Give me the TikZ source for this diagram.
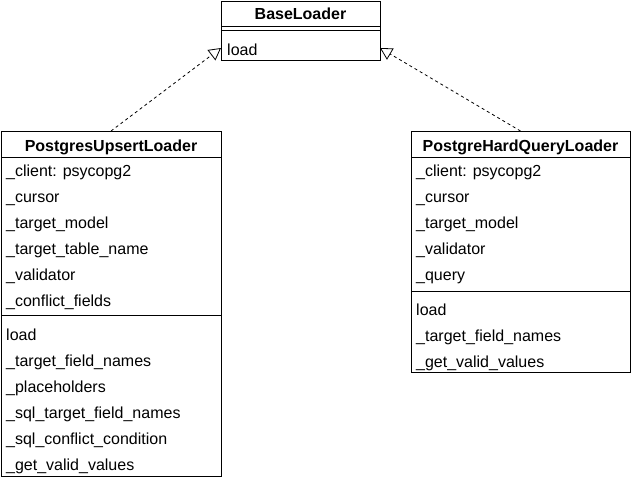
\documentclass[tikz,border=0pt]{standalone}
\usepackage{fontspec}
\setmainfont{Liberation Sans}
\usetikzlibrary{arrows.meta,positioning}

\tikzset{
  classbox/.style={draw, line width=1pt, anchor=north west, inner sep=0pt, outer sep=0pt},
  classname/.style={anchor=base, inner sep=0pt, font=\bfseries\fontsize{16}{19}\selectfont},
  member/.style={anchor=base west, inner sep=0pt, font=\fontsize{16}{19}\selectfont},
  realizes/.style={line width=0.8pt, dash pattern=on 3pt off 3pt, -{Triangle[open, length=12pt, width=13pt]}}
}

\begin{document}
\begin{tikzpicture}[x=1pt, y=-1pt]
\useasboundingbox (0,0) rectangle (631,480);

% BaseLoader
\node[classbox, minimum width=159pt, minimum height=59pt] (base) at (221,1) {};
\draw (base.west |- 0,26) -- (base.east |- 0,26);
\draw (base.west |- 0,30) -- (base.east |- 0,30);
\node[classname] (baseName) at (300.5,19) {BaseLoader};
\node[member] (baseLoad) at (227,55) {load};

% PostgresUpsertLoader
\node[classbox, minimum width=220pt, minimum height=345pt] (upsert) at (1,131) {};
\draw (upsert.west |- 0,157) -- (upsert.east |- 0,157);
\draw (upsert.west |- 0,315) -- (upsert.east |- 0,315);
\node[classname] (upsertName) at (111,151) {PostgresUpsertLoader};
\foreach \attr [count=\i] in {\_client: psycopg2, \_cursor, \_target\_model,
    \_target\_table\_name, \_validator, \_conflict\_fields}
  \node[member] (upsertA\i) at (6,{150+26*\i}) {\attr};
\foreach \meth [count=\i] in {load, \_target\_field\_names, \_placeholders,
    \_sql\_target\_field\_names, \_sql\_conflict\_condition, \_get\_valid\_values}
  \node[member] (upsertM\i) at (6,{314+26*\i}) {\meth};

% PostgreHardQueryLoader
\node[classbox, minimum width=219pt, minimum height=241pt] (hard) at (411,131) {};
\draw (hard.west |- 0,157) -- (hard.east |- 0,157);
\draw (hard.west |- 0,291) -- (hard.east |- 0,291);
\node[classname] (hardName) at (520.5,151) {PostgreHardQueryLoader};
\foreach \attr [count=\i] in {\_client: psycopg2, \_cursor, \_target\_model,
    \_validator, \_query}
  \node[member] (hardA\i) at (416,{150+26*\i}) {\attr};
\foreach \meth [count=\i] in {load, \_target\_field\_names, \_get\_valid\_values}
  \node[member] (hardM\i) at (416,{289+26*\i}) {\meth};

% inheritance
\draw[realizes] (upsert.north) -- ([yshift=-17.5pt]base.west);
\draw[realizes] (hard.north) -- ([yshift=-17.5pt]base.east);
\end{tikzpicture}
\end{document}
